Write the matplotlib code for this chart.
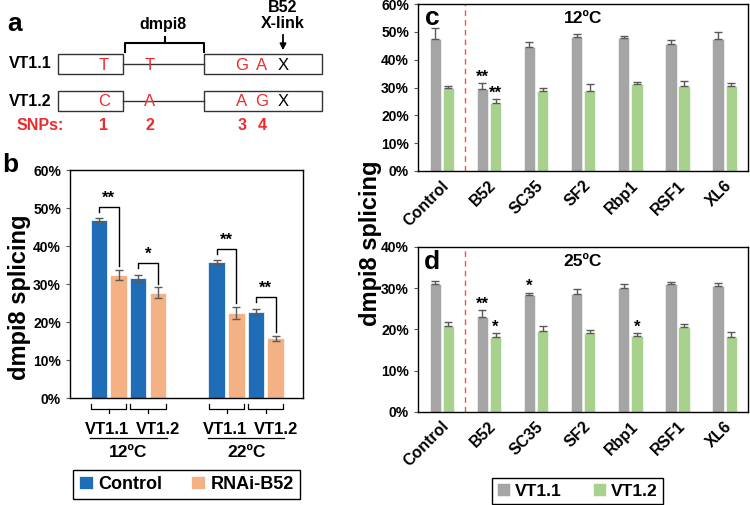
import numpy as np
import matplotlib
matplotlib.use("Agg")
import matplotlib.pyplot as plt
import matplotlib.transforms as mtransforms
from matplotlib.patches import Rectangle
from matplotlib.ticker import PercentFormatter

plt.rcParams['font.family'] = ['Liberation Sans', 'DejaVu Sans']
plt.rcParams['font.weight'] = 'bold'
plt.rcParams['axes.linewidth'] = 1.0

# ---- data panel b ----
temps = ['12ºC', '22ºC']
lines_b = ['VT1.1', 'VT1.2']
ctrl = [46.8, 31.5, 35.7, 22.7]
ctrl_err = [0.5, 1.0, 0.5, 0.8]
rnai = [32.4, 27.7, 22.4, 15.7]
rnai_err = [1.3, 1.4, 1.6, 0.6]
sig_b = ['**', '*', '**', '**']

# ---- data panels c / d ----
genes = ['Control', 'B52', 'SC35', 'SF2', 'Rbp1', 'RSF1', 'XL6']
c12_vt11 = [47.5, 29.4, 44.4, 48.3, 47.7, 45.6, 47.5]
c12_vt11_err = [3.7, 2.1, 1.8, 1.1, 0.8, 1.4, 2.6]
c12_vt12 = [29.8, 24.6, 28.9, 28.9, 31.3, 30.5, 30.5]
c12_vt12_err = [0.7, 1.2, 1.1, 2.3, 0.6, 1.9, 1.0]
c12_sig11 = ['', '**', '', '', '', '', '']
c12_sig12 = ['', '**', '', '', '', '', '']

c25_vt11 = [31.0, 23.1, 28.4, 28.6, 30.0, 31.0, 30.5]
c25_vt11_err = [0.8, 1.6, 0.5, 1.1, 0.9, 0.5, 0.7]
c25_vt12 = [20.9, 18.1, 19.7, 19.1, 18.3, 20.5, 18.1]
c25_vt12_err = [0.8, 1.0, 1.0, 0.7, 0.8, 0.7, 1.2]
c25_sig11 = ['', '**', '*', '', '', '', '']
c25_sig12 = ['', '*', '', '', '*', '', '']

blue = '#1F6DB6'
orange = '#F4B183'
gray = '#A5A5A5'
green = '#A9D18E'
red = '#EE2A2A'
ecol = '#595959'

W, H = 750, 505
fig = plt.figure(figsize=(7.5, 5.05), dpi=100)

def frac(l, t, r, b):
    return [l / W, (H - b) / H, (r - l) / W, (b - t) / H]

# ================= panel a (schematic) =================
axa = fig.add_axes([0, 0, 1, 1], facecolor='none')
axa.set_xlim(0, W)
axa.set_ylim(H, 0)
axa.axis('off')

axa.text(15, 24, 'a', fontsize=19, ha='center', va='center')
axa.text(10, 165, 'b', fontsize=19, ha='center', va='center')
rows = [('VT1.1', 64, ['T', 'T', 'G', 'A']), ('VT1.2', 101, ['C', 'A', 'A', 'G'])]
snp_x = [104, 150, 242, 262]
for name, yc, bases in rows:
    axa.text(52, yc, name, fontsize=11.5, ha='right', va='center')
    axa.add_patch(Rectangle((58, yc - 10), 65, 20, fill=False, lw=1, ec='#333333'))
    axa.plot([123, 204], [yc, yc], color='#333333', lw=1)
    axa.add_patch(Rectangle((204, yc - 10), 118, 20, fill=False, lw=1, ec='#333333'))
    for xb, bch in zip(snp_x, bases):
        axa.text(xb, yc + 1, bch, color=red, fontsize=12, fontweight='normal',
                 ha='center', va='center')
    axa.text(283, yc + 1, 'X', color='black', fontsize=12, fontweight='normal',
             ha='center', va='center')
axa.text(40, 126, 'SNPs:', color=red, fontsize=11.5, ha='center', va='center')
for i, xb in enumerate(snp_x):
    axa.text(xb, 126, str(i + 1), color=red, fontsize=11.5, ha='center', va='center')
# dmpi8 bracket
axa.plot([125, 125, 204, 204], [52, 43, 43, 52], color='black', lw=1.5)
axa.plot([164.5, 164.5], [43, 37], color='black', lw=1.5)
axa.text(163, 24, 'dmpi8', fontsize=11.5, ha='center', va='center')
axa.text(283, 7, 'B52', fontsize=11.5, ha='center', va='center')
axa.text(283, 24, 'X-link', fontsize=11.5, ha='center', va='center')
axa.annotate('', xy=(283, 53), xytext=(283, 32),
             arrowprops=dict(arrowstyle='-|>', color='black', lw=1.3, mutation_scale=9))

# ================= panel b =================
axb = fig.add_axes(frac(70, 170, 303, 398))
pair_x = np.array([0, 2, 6, 8])
axb.bar(pair_x, ctrl, width=0.84, color=blue, edgecolor='white', lw=0.5, label='Control')
axb.bar(pair_x + 1, rnai, width=0.84, color=orange, edgecolor='white', lw=0.5, label='RNAi-B52')
axb.errorbar(pair_x, ctrl, yerr=ctrl_err, fmt='none', ecolor=ecol, capsize=3, lw=1)
axb.errorbar(pair_x + 1, rnai, yerr=rnai_err, fmt='none', ecolor=ecol, capsize=3, lw=1)
axb.set_xlim(-1.48, 10.4)
axb.set_ylim(0, 60)
axb.set_yticks(np.arange(0, 61, 10))
axb.yaxis.set_major_formatter(PercentFormatter(100, decimals=0))
axb.set_xticks([])
axb.tick_params(axis='y', labelsize=10, length=3, color=ecol)
for i, x0 in enumerate(pair_x):
    top = ctrl[i] + ctrl_err[i] + 3.0
    axb.plot([x0, x0, x0 + 1, x0 + 1], [top - 1.3, top, top, rnai[i] + rnai_err[i] + 1.0],
             color='black', lw=1)
    axb.text(x0 + 0.5, top + 0.3, sig_b[i], ha='center', va='bottom', fontsize=12)

tb = mtransforms.blended_transform_factory(axb.transData, axb.transAxes)
text_off = [-0.1, 0.5]
for i, x0 in enumerate(pair_x):
    c = x0 + 0.5
    axb.plot([c - 0.9, c - 0.9, c + 0.9, c + 0.9], [-0.028, -0.05, -0.05, -0.028],
             transform=tb, clip_on=False, color='black', lw=0.9)
    axb.plot([c, c], [-0.05, -0.067], transform=tb, clip_on=False, color='black', lw=0.9)
    axb.text(c + text_off[i % 2], -0.136, lines_b[i % 2], transform=tb, ha='center',
             va='center', fontsize=12)
for g, t in enumerate(temps):
    gc = pair_x[2 * g] + 1.5
    axb.plot([gc - 1.95, gc + 1.95], [-0.175, -0.175], transform=tb, clip_on=False,
             color='black', lw=0.9)
    axb.text(gc, -0.241, t, transform=tb, ha='center', va='center', fontsize=12.5)

hb, lb = axb.get_legend_handles_labels()
fig.legend(hb, lb, loc='center', bbox_to_anchor=(186.5 / W, (H - 484.5) / H), ncol=2,
           fancybox=False, edgecolor='black', framealpha=1, handlelength=0.75,
           handleheight=0.75, handletextpad=0.3, columnspacing=1.6, borderpad=0.35,
           prop={'size': 13, 'weight': 'bold'})
fig.text(20 / W, (H - 297) / H, 'dmpi8 splicing', rotation=90, ha='center', va='center',
         fontsize=17)

# ================= panels c / d =================
def gene_panel(rect, v11, e11, v12, e12, s11, s12, ymax, title, letter, ty):
    ax = fig.add_axes(rect)
    x = np.arange(len(genes))
    ax.bar(x - 0.135, v11, width=0.24, color=gray, edgecolor='white', lw=0.4, label='VT1.1')
    ax.bar(x + 0.145, v12, width=0.24, color=green, edgecolor='white', lw=0.4, label='VT1.2')
    ax.errorbar(x - 0.135, v11, yerr=[np.zeros(len(x)), e11], fmt='none', ecolor=ecol,
                capsize=3, lw=1)
    ax.errorbar(x + 0.145, v12, yerr=[np.zeros(len(x)), e12], fmt='none', ecolor=ecol,
                capsize=3, lw=1)
    for i in range(len(x)):
        if s11[i]:
            ax.annotate(s11[i], (x[i] - 0.135, v11[i] + e11[i]), xytext=(0, -1),
                        textcoords='offset points', ha='center', va='bottom', fontsize=12)
        if s12[i]:
            ax.annotate(s12[i], (x[i] + 0.145, v12[i] + e12[i]), xytext=(0, -1),
                        textcoords='offset points', ha='center', va='bottom', fontsize=12)
    ax.axvline(0.5, color='#FF4A4A', ls=(0, (4, 3)), lw=1)
    ax.set_xlim(-0.5, len(x) - 0.5)
    ax.set_ylim(0, ymax)
    ax.set_yticks(np.arange(0, ymax + 1, 10))
    ax.yaxis.set_major_formatter(PercentFormatter(100, decimals=0))
    ax.set_xticks(x)
    ax.set_xticklabels(genes, rotation=45, ha='right', rotation_mode='anchor', fontsize=11.5)
    ax.tick_params(axis='x', length=0, pad=5)
    ax.tick_params(axis='y', labelsize=10, length=3, color=ecol)
    ax.text(0.5, ty, title, transform=ax.transAxes, ha='center', va='center', fontsize=12.5)
    ax.text(0.042, ty, letter, transform=ax.transAxes, ha='center', va='center', fontsize=19)
    return ax

axc = gene_panel(frac(418, 4, 748, 171), c12_vt11, c12_vt11_err, c12_vt12, c12_vt12_err,
                 c12_sig11, c12_sig12, 60, '12ºC', 'c', 0.915)
axd = gene_panel(frac(418, 247, 748, 411.7), c25_vt11, c25_vt11_err, c25_vt12, c25_vt12_err,
                 c25_sig11, c25_sig12, 40, '25ºC', 'd', 0.91)

hd, ld = axd.get_legend_handles_labels()
fig.legend(hd, ld, loc='center', bbox_to_anchor=(577.5 / W, (H - 491) / H), ncol=2,
           fancybox=False, edgecolor='black', framealpha=1, handlelength=0.75,
           handleheight=0.75, handletextpad=0.3, columnspacing=1.8, borderpad=0.3,
           prop={'size': 12.5, 'weight': 'bold'})
fig.text(371 / W, (H - 243) / H, 'dmpi8 splicing', rotation=90, ha='center', va='center',
         fontsize=17)

fig.savefig('out.png', dpi=100)
